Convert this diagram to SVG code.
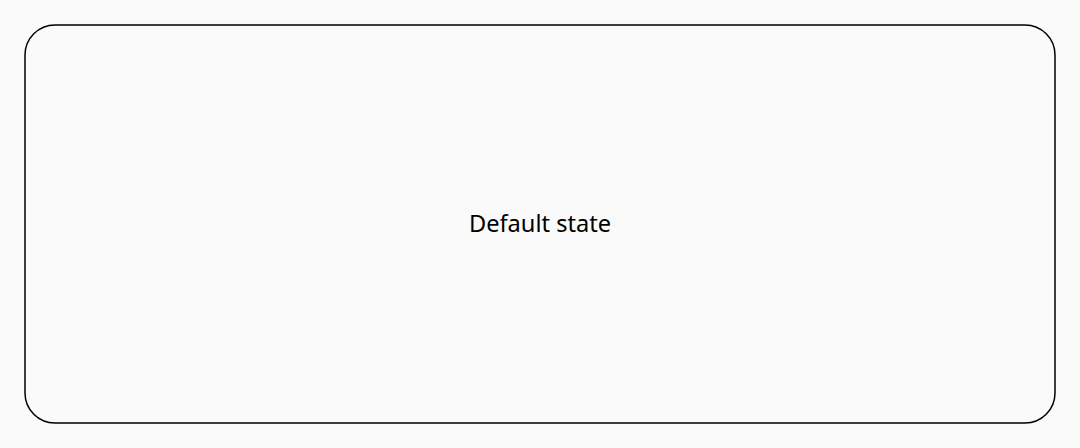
<svg xmlns="http://www.w3.org/2000/svg" width="1080" height="448" viewBox="0 0 1080 448">
<style>
.state{fill:#fafafa;stroke:#000;stroke-width:1.5}
.label{font-family:"Noto Sans","DejaVu Sans",sans-serif;font-size:23.6px;fill:#000;text-anchor:middle}
</style>
<rect width="1080" height="448" fill="#fafafa"/>
<g id="connectors"></g>
<g id="default-state">
<rect class="state" x="25" y="25" width="1030" height="398" rx="30" ry="30"/>
<text class="label" x="540" y="232">Default state</text>
</g>
</svg>
